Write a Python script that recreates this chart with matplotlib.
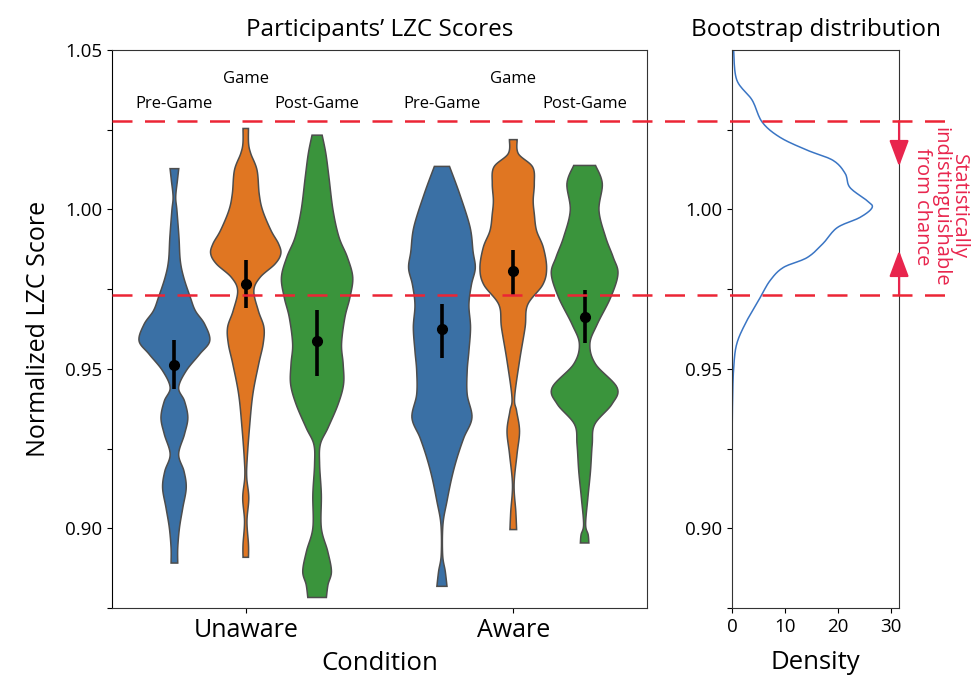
import numpy as np
import matplotlib
matplotlib.use("Agg")
import matplotlib.pyplot as plt
from matplotlib.transforms import blended_transform_factory

plt.rcParams['font.family'] = ['Open Sans', 'DejaVu Sans']

conditions = ["Unaware", "Aware"]
phases = ["Pre-Game", "Game", "Post-Game"]
colors = ["#3a70a5", "#e07622", "#3a943c"]

# violin outlines: score levels (top to bottom) and relative density at each level
unaware_pre_y = [1.0128, 1.0091, 1.0039, 0.9997, 0.9913, 0.9840, 0.9787, 0.9724, 0.9682, 0.9640,
                 0.9588, 0.9546, 0.9494, 0.9441, 0.9399, 0.9347, 0.9295, 0.9232, 0.9179, 0.9127,
                 0.9064, 0.9001, 0.8938, 0.8891]
unaware_pre_d = [4.3, 3.0, 1.3, 2.5, 4.5, 5.8, 9.2, 15.8, 20.8, 30.0,
                 35.0, 25.0, 11.7, 4.2, 10.0, 13.3, 10.0, 4.2, 9.5, 11.7,
                 8.3, 5.0, 3.3, 3.3]
unaware_game_y = [1.0254, 1.0207, 1.0175, 1.0123, 1.0049, 0.9997, 0.9934, 0.9892, 0.9861, 0.9829,
                  0.9787, 0.9745, 0.9682, 0.9630, 0.9578, 0.9515, 0.9420, 0.9315, 0.9211, 0.9158,
                  0.9095, 0.9022, 0.8949, 0.8909]
unaware_game_d = [2.7, 2.8, 5.0, 11.2, 13.3, 16.7, 25.0, 32.5, 34.7, 29.0,
                  14.2, 8.0, 12.5, 18.0, 17.2, 12.8, 7.0, 3.7, 1.3, 1.0,
                  3.0, 1.2, 2.7, 2.7]
unaware_post_y = [1.0233, 1.0175, 1.0102, 0.9997, 0.9913, 0.9850, 0.9787, 0.9724, 0.9661, 0.9578,
                  0.9515, 0.9452, 0.9389, 0.9315, 0.9263, 0.9200, 0.9106, 0.9001, 0.8928, 0.8865,
                  0.8823, 0.8783]
unaware_post_d = [5.0, 8.7, 11.7, 15.8, 21.7, 30.0, 35.3, 32.5, 27.5, 24.2,
                  25.8, 26.2, 20.8, 10.8, 3.2, 2.5, 4.2, 4.2, 10.5, 14.2,
                  10.8, 9.2]
aware_pre_y = [1.0135, 1.0049, 0.9945, 0.9868, 0.9816, 0.9764, 0.9701, 0.9630, 0.9556, 0.9494,
               0.9420, 0.9347, 0.9284, 0.9221, 0.9158, 0.9085, 0.9012, 0.8917, 0.8865, 0.8818]
aware_pre_d = [7.5, 17.5, 27.8, 30.8, 33.0, 29.2, 26.7, 28.3, 26.7, 25.0,
               25.0, 29.7, 21.7, 15.0, 9.7, 5.0, 1.0, 0.7, 3.3, 5.0]
aware_game_y = [1.0219, 1.0175, 1.0133, 1.0081, 1.0028, 0.9986, 0.9934, 0.9881, 0.9816, 0.9764,
                0.9701, 0.9630, 0.9525, 0.9410, 0.9368, 0.9305, 0.9232, 0.9137, 0.9053, 0.8996]
aware_game_d = [3.8, 5.0, 19.2, 20.8, 19.7, 20.8, 23.0, 29.7, 33.0, 29.2,
                14.2, 11.7, 6.2, 1.3, 3.3, 6.2, 3.7, 0.8, 2.5, 3.3]
aware_post_y = [1.0138, 1.0081, 0.9997, 0.9913, 0.9850, 0.9798, 0.9724, 0.9640, 0.9578, 0.9515,
                0.9441, 0.9389, 0.9326, 0.9263, 0.9179, 0.9095, 0.9012, 0.8980, 0.8954]
aware_post_d = [10.8, 17.5, 14.2, 20.8, 28.3, 33.0, 25.8, 12.5, 5.2, 10.8,
                32.2, 27.0, 10.0, 7.5, 5.8, 3.2, 1.0, 3.5, 4.2]

# group means with confidence intervals (low, high)
unaware_mean = [0.9513, 0.9767, 0.9588]
unaware_lo = [0.9437, 0.9692, 0.9478]
unaware_hi = [0.9591, 0.9840, 0.9686]
aware_mean = [0.9626, 0.9808, 0.9664]
aware_lo = [0.9535, 0.9730, 0.9582]
aware_hi = [0.9705, 0.9874, 0.9748]

# bootstrap density of the chance-level score
boot_y = [1.0500, 1.0406, 1.0343, 1.0274, 1.0226, 1.0186, 1.0154, 1.0113, 1.0069, 1.0028,
          1.0006, 0.9975, 0.9943, 0.9893, 0.9849, 0.9818, 0.9777, 0.9723, 0.9651, 0.9579,
          0.9500, 0.9400, 0.9280]
boot_d = [0.3, 0.9, 3.8, 5.7, 9.1, 14.2, 19.1, 21.4, 22.3, 25.5,
          26.5, 24.2, 19.9, 17.2, 14.2, 9.7, 7.2, 5.3, 2.8, 0.9,
          0.3, 0.1, 0.0]

chance_lo = 0.9733
chance_hi = 1.0277

violins = [[(unaware_pre_y, unaware_pre_d), (unaware_game_y, unaware_game_d), (unaware_post_y, unaware_post_d)],
           [(aware_pre_y, aware_pre_d), (aware_game_y, aware_game_d), (aware_post_y, aware_post_d)]]
means = [(unaware_mean, unaware_lo, unaware_hi), (aware_mean, aware_lo, aware_hi)]


def catmull(ys, ds, n=10):
    p = np.column_stack([ys, ds]).astype(float)
    p = np.vstack([p[0], p, p[-1]])
    t = np.linspace(0, 1, n, endpoint=False)[:, None]
    out = []
    for i in range(1, len(p) - 2):
        p0, p1, p2, p3 = p[i - 1], p[i], p[i + 1], p[i + 2]
        out.append(0.5 * (2 * p1 + (-p0 + p2) * t + (2 * p0 - 5 * p1 + 4 * p2 - p3) * t ** 2
                          + (-p0 + 3 * p1 - 3 * p2 + p3) * t ** 3))
    out.append(p[-2][None])
    c = np.vstack(out)
    return c[:, 0], np.clip(c[:, 1], 0, None)


fig = plt.figure(figsize=(9.78, 6.77), dpi=100)
ax = fig.add_axes([0.1145, 0.1019, 0.5471, 0.8242])
ax2 = fig.add_axes([0.7485, 0.1019, 0.1708, 0.8242])

dmax = max(max(d) for grp in violins for _, d in grp)
half = 0.8 / 3 / 2
offsets = [-0.8 / 3, 0, 0.8 / 3]

for ci, grp in enumerate(violins):
    mu, lo, hi = means[ci]
    for hi_, (ys, ds) in enumerate(grp):
        xc = ci + offsets[hi_]
        yy, dd = catmull(ys, ds)
        w = dd / dmax * half
        ax.fill(np.concatenate([xc + w, (xc - w)[::-1]]), np.concatenate([yy, yy[::-1]]),
                facecolor=colors[hi_], edgecolor='#4d4d4d', lw=1.1, zorder=2)
        ax.plot([xc, xc], [lo[hi_], hi[hi_]], color='black', lw=2.6, zorder=3, solid_capstyle='butt')
        ax.plot(xc, mu[hi_], 'o', color='black', ms=7, zorder=4)
        ylab = 1.0409 if hi_ == 1 else 1.0330
        ax.text(xc, ylab, phases[hi_], ha='center', va='center', fontsize=12)

ax.set_xlim(-0.5, 1.5)
ax.set_ylim(0.875, 1.05)
ax.set_xticks([0, 1])
ax.set_xticklabels(conditions, fontsize=18)
ax.set_yticks([0.875, 0.9, 0.925, 0.95, 0.975, 1.0, 1.025, 1.05])
ax.set_yticklabels(["", "0.90", "", "0.95", "", "1.00", "", "1.05"], fontsize=13.5)
ax.set_xlabel("Condition", fontsize=18.5, labelpad=6)
ax.set_ylabel("Normalized LZC Score", fontsize=18, labelpad=10)
ax.set_title("Participants\u2019 LZC Scores", fontsize=17.5, pad=10)
for s in ax.spines.values():
    s.set_color('#333333')
ax.spines['left'].set_color('black')

by, bd = catmull(boot_y, boot_d, n=12)
ax2.plot(bd, by, color='#3a75c4', lw=1.1)
ax2.set_xlim(0, 31.6)
ax2.set_ylim(0.875, 1.05)
ax2.set_xticks([0, 10, 20, 30])
ax2.set_xticklabels(["0", "10", "20", "30"], fontsize=13.5)
ax2.set_yticks([0.875, 0.9, 0.925, 0.95, 0.975, 1.0, 1.025])
ax2.set_yticklabels(["", "0.90", "", "0.95", "", "1.00", ""], fontsize=13.5)
ax2.set_xlabel("Density", fontsize=18.5, labelpad=10)
ax2.set_title("Bootstrap distribution", fontsize=17.5, pad=10)
for s in ax2.spines.values():
    s.set_color('#333333')

red = '#ec2535'
pink = '#e8254d'
trans = blended_transform_factory(fig.transFigure, ax.transData)
for yv in [chance_lo, chance_hi]:
    fig.add_artist(plt.Line2D([0.1145, 0.972], [yv, yv], transform=trans, color=red,
                              lw=1.8, dashes=(8, 5), zorder=5))

arrow_kw = dict(arrowstyle='-|>,head_length=0.8,head_width=0.3', color=pink, lw=1.6,
                shrinkA=0, shrinkB=0, mutation_scale=20)
ax2.annotate("", xy=(31.6, 1.0135), xytext=(31.6, chance_hi), arrowprops=arrow_kw,
             annotation_clip=False)
ax2.annotate("", xy=(31.6, 0.9871), xytext=(31.6, chance_lo), arrowprops=arrow_kw,
             annotation_clip=False)
fig.text(0.962, 1 - 207 / 677, "Statistically\nindistinguishable\nfrom chance", rotation=-90,
         ha='center', va='center', multialignment='center', color=pink, fontsize=14.5,
         linespacing=0.9)

fig.savefig("out.png", dpi=100)
